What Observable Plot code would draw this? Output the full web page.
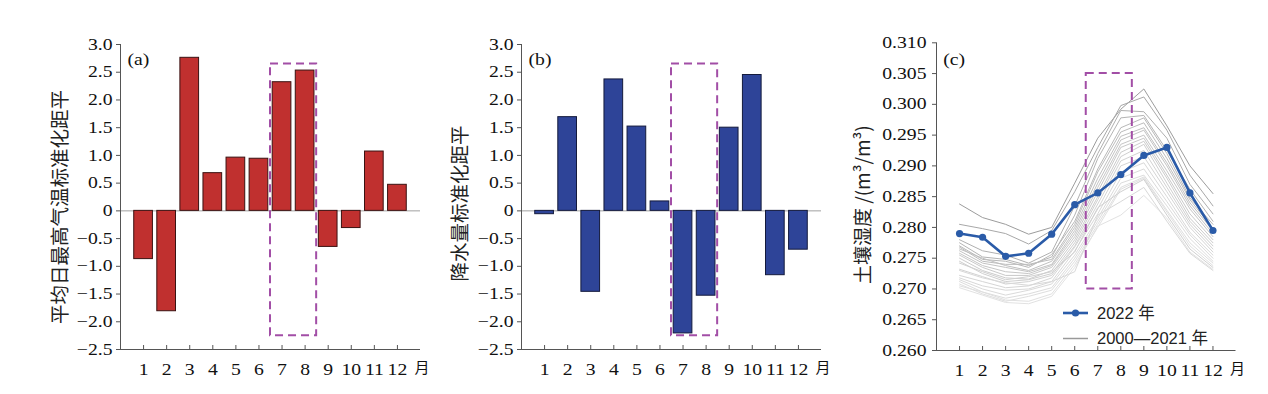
<!DOCTYPE html>
<html><head><meta charset="utf-8">
<script src="https://cdn.jsdelivr.net/npm/d3@7"></script>
<script src="https://cdn.jsdelivr.net/npm/@observablehq/plot@0.6"></script>
<style>
html,body{margin:0;padding:0;background:#fff;}
#wrap{position:relative;width:1268px;height:394px;overflow:hidden;background:#fff;}
</style></head><body><div id="wrap"></div>
<script>
// ---------- data ----------
const months = [1,2,3,4,5,6,7,8,9,10,11,12];
const tmaxAnomaly   = [-0.87,-1.81,2.76,0.68,0.96,0.94,2.32,2.53,-0.65,-0.31,1.07,0.47];
const precipAnomaly = [-0.06,1.69,-1.46,2.37,1.52,0.17,-2.21,-1.53,1.50,2.45,-1.16,-0.70];
const soil2022 = [0.2790,0.2784,0.2753,0.2758,0.2789,0.2837,0.2856,0.2886,0.2917,0.2930,0.2856,0.2795];
const soilYears = [2000,2001,2002,2003,2004,2005,2006,2007,2008,2009,2010,2011,2012,2013,2014,2015,2016,2017,2018,2019,2020,2021];
const soilHistory = [
  [0.2838,0.2816,0.2805,0.2789,0.2800,0.2872,0.2945,0.2992,0.3025,0.2965,0.2900,0.2855],
  [0.2805,0.2798,0.2790,0.2773,0.2795,0.2858,0.2930,0.2998,0.3012,0.2958,0.2885,0.2835],
  [0.2780,0.2762,0.2755,0.2742,0.2760,0.2835,0.2920,0.2990,0.2988,0.2945,0.2870,0.2822],
  [0.2775,0.2752,0.2748,0.2738,0.2752,0.2820,0.2912,0.2978,0.2982,0.2925,0.2862,0.2810],
  [0.2770,0.2748,0.2745,0.2735,0.2756,0.2810,0.2895,0.2962,0.2978,0.2920,0.2848,0.2805],
  [0.2768,0.2745,0.2740,0.2740,0.2748,0.2805,0.2890,0.2955,0.2970,0.2912,0.2845,0.2798],
  [0.2765,0.2750,0.2738,0.2730,0.2745,0.2800,0.2880,0.2948,0.2962,0.2905,0.2840,0.2795],
  [0.2762,0.2742,0.2735,0.2728,0.2740,0.2795,0.2872,0.2942,0.2958,0.2900,0.2835,0.2790],
  [0.2758,0.2738,0.2728,0.2725,0.2738,0.2790,0.2865,0.2935,0.2950,0.2892,0.2830,0.2785],
  [0.2755,0.2735,0.2722,0.2722,0.2735,0.2785,0.2858,0.2930,0.2945,0.2885,0.2822,0.2780],
  [0.2750,0.2730,0.2718,0.2716,0.2730,0.2780,0.2850,0.2922,0.2940,0.2880,0.2815,0.2775],
  [0.2745,0.2725,0.2712,0.2715,0.2725,0.2775,0.2845,0.2915,0.2935,0.2872,0.2810,0.2770],
  [0.2732,0.2720,0.2708,0.2712,0.2722,0.2770,0.2838,0.2908,0.2925,0.2865,0.2805,0.2765],
  [0.2722,0.2712,0.2702,0.2705,0.2718,0.2768,0.2830,0.2900,0.2915,0.2858,0.2800,0.2760],
  [0.2718,0.2705,0.2698,0.2700,0.2712,0.2762,0.2822,0.2890,0.2905,0.2850,0.2792,0.2755],
  [0.2715,0.2700,0.2690,0.2698,0.2708,0.2755,0.2815,0.2880,0.2895,0.2842,0.2788,0.2750],
  [0.2712,0.2695,0.2685,0.2692,0.2702,0.2750,0.2810,0.2872,0.2885,0.2835,0.2782,0.2745],
  [0.2708,0.2692,0.2680,0.2688,0.2698,0.2745,0.2805,0.2865,0.2882,0.2828,0.2775,0.2742],
  [0.2705,0.2695,0.2682,0.2680,0.2692,0.2740,0.2800,0.2862,0.2880,0.2825,0.2770,0.2738],
  [0.2702,0.2690,0.2678,0.2676,0.2688,0.2735,0.2802,0.2820,0.2852,0.2815,0.2760,0.2732],
  [0.2730,0.2718,0.2710,0.2706,0.2712,0.2728,0.2820,0.2842,0.2865,0.2810,0.2758,0.2730],
  [0.2742,0.2728,0.2715,0.2720,0.2728,0.2760,0.2832,0.2858,0.2878,0.2820,0.2765,0.2735]
];
const yTicksAB = [-2.5,-2,-1.5,-1,-0.5,0,0.5,1,1.5,2,2.5,3];
const yTicksC = [0.260,0.265,0.270,0.275,0.280,0.285,0.290,0.295,0.300,0.305,0.310];
const boxMonths = [6.5, 8.5];
const boxAB = [-2.25, 2.65];
const boxC = [0.270, 0.305];
const labelA = "平均日最高气温标准化距平";
const labelB = "降水量标准化距平";
const labelC = "土壤湿度 /(m³/m³)";
const monthUnit = "月";
const legendLabels = ["2022 年", "2000—2021 年"];
// ---------- styles ----------
const historyGreys = ["#9c9c9c","#a8a8a8","#b0b0b0","#b4b4b4","#b8b8b8","#bcbcbc","#c0c0c0","#c3c3c3","#c6c6c6","#c9c9c9","#cccccc","#cfcfcf","#d2d2d2","#d5d5d5","#d8d8d8","#dadada","#dcdcdc","#dedede","#e0e0e0","#e2e2e2","#d8d8d8","#d0d0d0"];
const serif = "'Liberation Serif','Times New Roman','Noto Sans CJK SC',serif";
const cjk = "'Noto Sans CJK SC','Liberation Serif',serif";
const axisColor = "#555";
const boxColor = "#a24ea6";
const wrap = document.getElementById("wrap");
const minus = s => s.replace("-", "\u2212");

// widen Latin text horizontally (the reference uses a wide serif face)
function stretch(svg, k) {
  svg.querySelectorAll("text").forEach(t => {
    const tr = t.getAttribute("transform") || "";
    if (tr.includes("rotate")) return;
    if (/[\u4e00-\u9fff]/.test(t.textContent)) return;
    if (t.hasAttribute("x") && +t.getAttribute("x") !== 0) return;
    t.setAttribute("transform", (tr ? tr + " " : "") + `scale(${k},1)`);
  });
}
function place(svg, left) {
  svg.style.position = "absolute";
  svg.style.left = left + "px";
  svg.style.top = "0px";
  wrap.appendChild(svg);
  stretch(svg, 1.23);
}

function barPanel({values, fill, stroke, label, tag, width, marginLeft, marginRight, labelDx, labelDy}) {
  const data = months.map((m, i) => ({month: m, value: values[i]}));
  return Plot.plot({
    width, height: 394, marginLeft, marginRight, marginTop: 44, marginBottom: 45,
    style: {fontFamily: serif, fontSize: "16px", color: "#111", background: "transparent", overflow: "visible"},
    x: {domain: [0, 13]},
    y: {domain: [-2.5, 3]},
    marks: [
      Plot.ruleY([0], {stroke: "#a0a0a0", strokeWidth: 1}),
      Plot.rect(data, {x1: d => d.month - 0.405, x2: d => d.month + 0.405, y1: 0, y2: "value", fill, stroke, strokeWidth: 1}),
      Plot.rect([0], {x1: boxMonths[0], x2: boxMonths[1], y1: boxAB[0], y2: boxAB[1], fill: "none", stroke: boxColor, strokeWidth: 2, strokeDasharray: "8,5"}),
      Plot.ruleX([0], {stroke: axisColor}),
      Plot.ruleY([-2.5], {stroke: axisColor}),
      Plot.axisY({ticks: yTicksAB, tickSize: 4, tickPadding: 4, stroke: axisColor, tickFormat: d => d === 0 ? "0" : minus(d.toFixed(1)), label: null}),
      Plot.tickX(months, {x: d => d, stroke: axisColor, insetTop: 301}),
      Plot.axisX({ticks: months, tickSize: 0, tickPadding: 14, tickFormat: d => String(d), label: null}),
      Plot.text([monthUnit], {x: 13, frameAnchor: "bottom", dy: 19, dx: 1.5, text: d => d, fontFamily: cjk, fontSize: 15, lineAnchor: "middle"}),
      Plot.text([label], {frameAnchor: "left", rotate: -90, dx: labelDx, dy: labelDy, text: d => d, fontFamily: cjk, fontSize: 19.5, textAnchor: "middle", lineAnchor: "middle", fill: "#222"}),
      Plot.text([tag], {frameAnchor: "top-left", dx: 7, dy: 15, text: d => d, textAnchor: "start", lineAnchor: "middle", fontSize: 16})
    ]
  });
}

const a = barPanel({values: tmaxAnomaly, fill: "#c0302f", stroke: "#3a1212", label: labelA, tag: "(a)",
  width: 430, marginLeft: 120, marginRight: 10, labelDx: -60, labelDy: 10});
place(a, 0);
const b = barPanel({values: precipAnomaly, fill: "#2e4498", stroke: "#141a3c", label: labelB, tag: "(b)",
  width: 420, marginLeft: 101, marginRight: 19, labelDx: -61, labelDy: 6.5});
place(b, 420);

const c = Plot.plot({
  width: 428, height: 394, marginLeft: 96, marginRight: 32.5, marginTop: 42.3, marginBottom: 44,
  style: {fontFamily: serif, fontSize: "16px", color: "#111", background: "transparent", overflow: "visible"},
  x: {domain: [0, 13]},
  y: {domain: [0.26, 0.31]},
  marks: [
    ...soilHistory.map((vals, i) => Plot.line(months, {x: d => d, y: (d, j) => vals[j], stroke: historyGreys[i], strokeWidth: 1})),
    Plot.rect([0], {x1: boxMonths[0], x2: boxMonths[1], y1: boxC[0], y2: boxC[1], fill: "none", stroke: boxColor, strokeWidth: 2, strokeDasharray: "8,5"}),
    Plot.line(months, {x: d => d, y: (d, j) => soil2022[j], stroke: "#2a5ba8", strokeWidth: 2.6}),
    Plot.dot(months, {x: d => d, y: (d, j) => soil2022[j], fill: "#2a5ba8", r: 3.6}),
    Plot.ruleX([0], {stroke: axisColor}),
    Plot.ruleY([0.26], {stroke: axisColor}),
    Plot.axisY({ticks: yTicksC, tickSize: 4, tickPadding: 6, stroke: axisColor, tickFormat: d => d.toFixed(3), label: null}),
    Plot.tickX(months, {x: d => d, stroke: axisColor, insetTop: 303.7}),
    Plot.axisX({ticks: months, tickSize: 0, tickPadding: 14, tickFormat: d => String(d), label: null}),
    Plot.text([monthUnit], {x: 13, frameAnchor: "bottom", dy: 19, dx: 1.5, text: d => d, fontFamily: cjk, fontSize: 15, lineAnchor: "middle"}),
    Plot.text([labelC], {frameAnchor: "left", rotate: -90, dx: -73, dy: 8, text: d => d, fontFamily: cjk, fontSize: 19, textAnchor: "middle", lineAnchor: "middle", fill: "#222"}),
    Plot.text(["(c)"], {frameAnchor: "top-left", dx: 6.7, dy: 16.7, text: d => d, textAnchor: "start", lineAnchor: "middle", fontSize: 16})
  ]
});
place(c, 840);

// legend
const leg = d3.create("svg").attr("width", 210).attr("height", 50)
  .style("position", "absolute").style("left", "1055px").style("top", "298px");
const rows = [{label: legendLabels[0], color: "#2a5ba8", w: 2.6, dot: true}, {label: legendLabels[1], color: "#999", w: 1.5, dot: false}];
rows.forEach((r, i) => {
  const y = 15 + i * 25.5;
  leg.append("line").attr("x1", 8).attr("x2", 33).attr("y1", y).attr("y2", y).attr("stroke", r.color).attr("stroke-width", r.w);
  if (r.dot) leg.append("circle").attr("cx", 20.5).attr("cy", y).attr("r", 3.6).attr("fill", r.color);
  leg.append("text").attr("x", 42).attr("y", y).attr("dy", "0.36em").attr("font-family", "'Liberation Sans','Noto Sans CJK SC',sans-serif")
    .attr("font-size", 16.5).attr("fill", "#222").text(r.label);
});
wrap.appendChild(leg.node());
</script></body></html>
